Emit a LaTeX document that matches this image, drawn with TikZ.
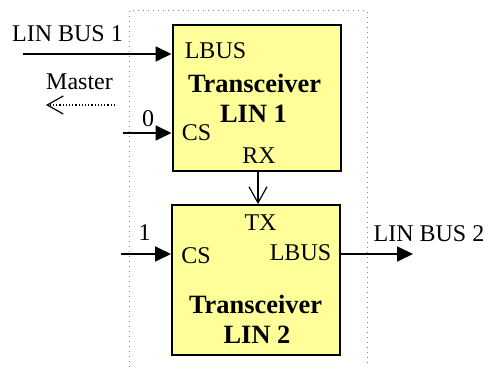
\documentclass[tikz,border=0pt]{standalone}
\usepackage{fontspec}
\setmainfont{Liberation Serif}
\usetikzlibrary{arrows.meta,positioning}
\definecolor{BoxYellow}{HTML}{FFFF99}

\begin{document}
\begin{tikzpicture}[
    x=0.5pt,y=-0.5pt,
    font=\fontsize{12}{14}\selectfont,
    trx/.style={rectangle,draw=black,line width=1pt,fill=BoxYellow,inner sep=0pt},
    lbl/.style={inner sep=0pt},
    title/.style={inner sep=0pt,font=\fontsize{13.2}{15}\selectfont\bfseries},
    sig/.style={line width=0.9pt,-{Triangle[length=8pt,width=7.5pt]}},
    open/.style={line width=0.6pt,-{Straight Barb[length=8pt,width=9pt]}}
  ]
  \useasboundingbox (0,0) rectangle (486,367);
  % Frame round the two transceivers
  \draw[gray,dotted,line width=0.5pt] (129,367) -- (129,11) -- (367,11) -- (367,367);
  % Transceivers
  \node[trx,minimum width=84pt,minimum height=73pt] (t1) at (256.5,98) {};
  \node[trx,minimum width=84pt,minimum height=75pt] (t2) at (256,280) {};
  % Pins of the first transceiver
  \node[lbl] (lbus1) at (215.5,51) {LBUS};
  \node[title] (name1) at (254.5,83.5) {Transceiver};
  \node[title] (lin1) at (253.5,114) {LIN 1};
  \node[lbl] (cs1) at (196.5,132.5) {CS};
  \node[lbl] (rx) at (259,156) {RX};
  % Pins of the second transceiver
  \node[lbl] (tx) at (260.5,222.5) {TX};
  \node[lbl] (cs2) at (196,256) {CS};
  \node[lbl] (lbus2) at (300.5,253) {LBUS};
  \node[title] (name2) at (255.5,304) {Transceiver};
  \node[title] (lin2) at (257,335) {LIN 2};
  % Outside labels
  \node[lbl] (bus1) at (67.5,33.5) {LIN BUS 1};
  \node[lbl] (master) at (79.5,82) {Master};
  \node[lbl] (zero) at (148,118.5) {0};
  \node[lbl] (one) at (144.5,232.5) {1};
  \node[lbl] (bus2) at (429,233.5) {LIN BUS 2};
  % Free ends of the lines
  \coordinate (bus1in) at (23,54);
  \coordinate (mfrom) at (115,105);
  \coordinate (mto) at (46,105);
  \coordinate (cs1in) at (123,133);
  \coordinate (cs2in) at (121,254);
  \coordinate (bus2out) at (413,254);
  % Connections
  \draw[sig] (bus1in) -- (bus1in -| t1.west);
  \draw[open,densely dotted] (mfrom) -- (mto);
  \draw[sig] (cs1in) -- (cs1in -| t1.west);
  \draw[sig] (cs2in) -- (cs2in -| t2.west);
  \draw[sig] (bus2out -| t2.east) -- (bus2out);
  \draw[open] (258,0 |- t1.south) -- (258,0 |- t2.north);
\end{tikzpicture}
\end{document}
